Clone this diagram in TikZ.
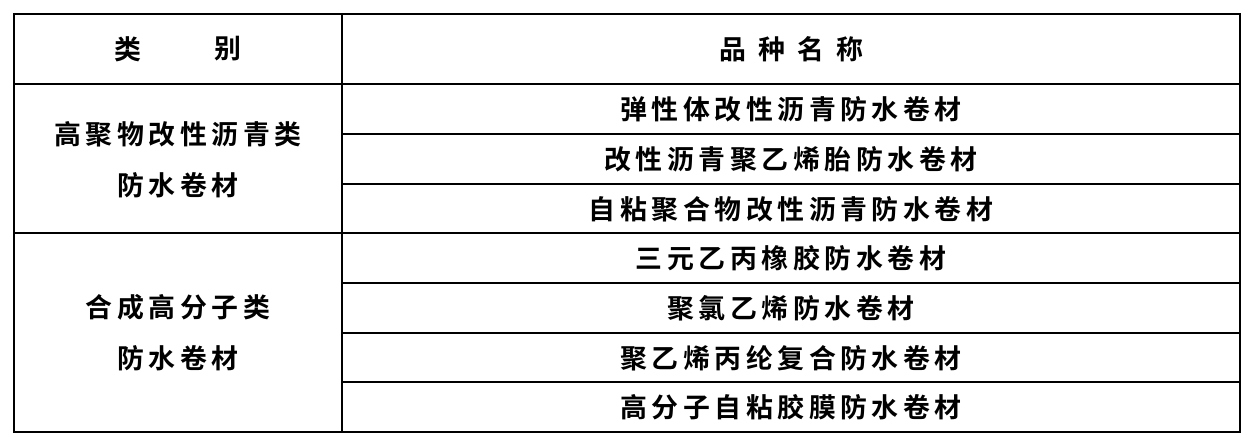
\documentclass[tikz,border=0pt]{standalone}
\usepackage{fontspec}
\newfontfamily\cjk[LetterSpace=17]{Noto Sans CJK SC Bold}
\begin{document}
\begin{tikzpicture}[x=1bp,y=-1bp,
  txt/.style={font=\cjk\fontsize{27}{32}\selectfont, inner sep=0pt},
  thin/.style={line width=1.4bp}]
\useasboundingbox (0,0) rectangle (1252,443);
\fill[white] (0,0) rectangle (1252,443);
\coordinate (tl) at (14,14); \coordinate (br) at (1240,432);
\draw[line width=2.6bp] (tl) rectangle (br);
\draw[thin] (14,84) -- (1240,84);
\draw[thin] (342,14) -- (342,432);
\draw[thin] (14,233) -- (1240,233);
\foreach \y in {134,184,283,333,382} \draw[thin] (342,\y) -- (1240,\y);
\node[txt] (h1a) at (128,49) {类};
\node[txt] (h1b) at (228,49) {别};
\node[txt] (h2) at (791,49) {品\hspace{0.45em}种\hspace{0.45em}名\hspace{0.45em}称};
\node[txt] (g1a) at (178,134) {高聚物改性沥青类};
\node[txt] (g1b) at (178,185) {防水卷材};
\node[txt] (g2a) at (178,307) {合成高分子类};
\node[txt] (g2b) at (178,358) {防水卷材};
\node[txt] (r1) at (791,109) {弹性体改性沥青防水卷材};
\node[txt] (r2) at (791,159) {改性沥青聚乙烯胎防水卷材};
\node[txt] (r3) at (791,209) {自粘聚合物改性沥青防水卷材};
\node[txt] (r4) at (791,258) {三元乙丙橡胶防水卷材};
\node[txt] (r5) at (791,308) {聚氯乙烯防水卷材};
\node[txt] (r6) at (791,358) {聚乙烯丙纶复合防水卷材};
\node[txt] (r7) at (791,407) {高分子自粘胶膜防水卷材};
\end{tikzpicture}
\end{document}
